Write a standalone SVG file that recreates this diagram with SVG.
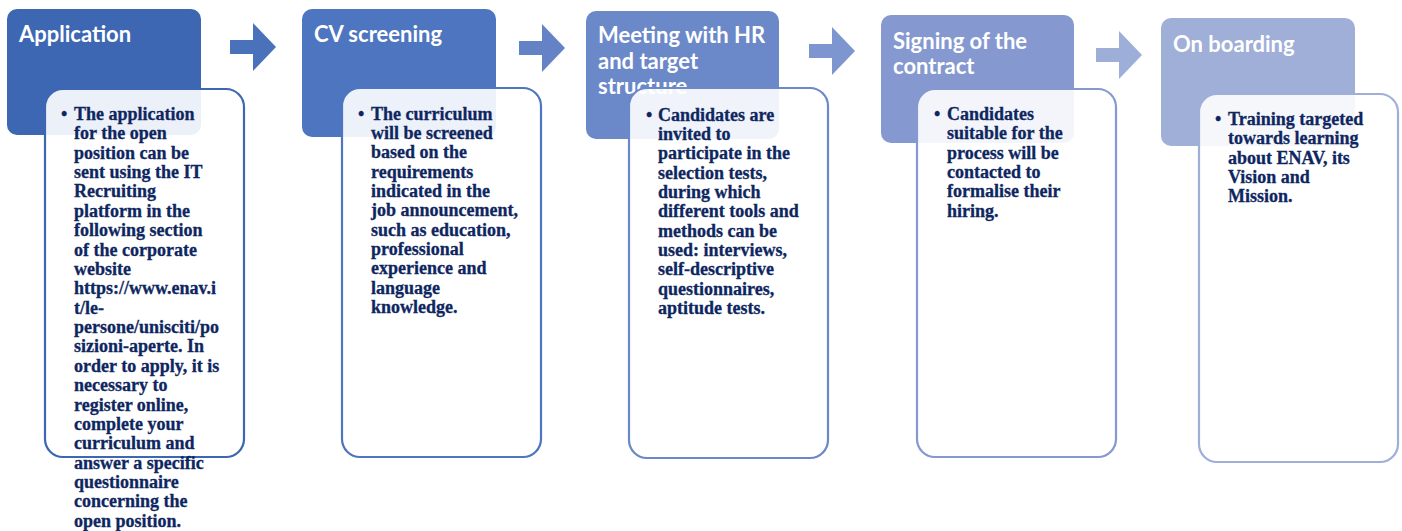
<svg xmlns="http://www.w3.org/2000/svg" width="1402" height="531" viewBox="0 0 1402 531">
<style>
.hdr{stroke:none}
.title{font-family:Lato,"Open Sans",sans-serif;font-weight:bold;font-size:22px;fill:#ffffff}
.card{fill:#ffffff;fill-opacity:0.9;stroke-width:2.2}
.body{font-family:"Liberation Serif","Times New Roman",serif;font-weight:bold;font-size:18px;fill:#0e2660;stroke:#0e2660;stroke-width:0.3}
</style>
<rect width="1402" height="531" fill="#ffffff"/>
<g id="connectors">
<polygon points="230,40 253,40 253,23 276,47 253,71 253,54 230,54" fill="#4a72ba"/>
<polygon points="519,41 542,41 542,24 565,48 542,72 542,55 519,55" fill="#6482c5"/>
<polygon points="809,44 832,44 832,27 855,51 832,75 832,58 809,58" fill="#7e96cf"/>
<polygon points="1096,48 1119,48 1119,31 1142,55 1119,79 1119,62 1096,62" fill="#9daed9"/>
</g>
<g id="node-application">
<rect class="hdr" x="7" y="9" width="194" height="126" rx="10" fill="#3d67b2"/>
<text class="title" x="19" y="42">Application</text>
<rect class="card" x="45" y="89" width="199" height="368" rx="18" stroke="#3d67b2"/>
<text class="body" x="61" y="120">•</text>
<text class="body">
<tspan x="74" y="120">The application</tspan>
<tspan x="74" dy="19.37">for the open</tspan>
<tspan x="74" dy="19.37">position can be</tspan>
<tspan x="74" dy="19.37">sent using the IT</tspan>
<tspan x="74" dy="19.37">Recruiting</tspan>
<tspan x="74" dy="19.37">platform in the</tspan>
<tspan x="74" dy="19.37">following section</tspan>
<tspan x="74" dy="19.37">of the corporate</tspan>
<tspan x="74" dy="19.37">website</tspan>
<tspan x="74" dy="19.37">https://www.enav.i</tspan>
<tspan x="74" dy="19.37">t/le-</tspan>
<tspan x="74" dy="19.37">persone/unisciti/po</tspan>
<tspan x="74" dy="19.37">sizioni-aperte. In</tspan>
<tspan x="74" dy="19.37">order to apply, it is</tspan>
<tspan x="74" dy="19.37">necessary to</tspan>
<tspan x="74" dy="19.37">register online,</tspan>
<tspan x="74" dy="19.37">complete your</tspan>
<tspan x="74" dy="19.37">curriculum and</tspan>
<tspan x="74" dy="19.37">answer a specific</tspan>
<tspan x="74" dy="19.37">questionnaire</tspan>
<tspan x="74" dy="19.37">concerning the</tspan>
<tspan x="74" dy="19.37">open position.</tspan>
</text>
</g>
<g id="node-cv-screening">
<rect class="hdr" x="302" y="9" width="194" height="128" rx="10" fill="#4e75c0"/>
<text class="title" x="314" y="42">CV screening</text>
<rect class="card" x="342" y="88" width="199" height="369" rx="18" stroke="#4e75c0"/>
<text class="body" x="358" y="119.5">•</text>
<text class="body">
<tspan x="371" y="119.5">The curriculum</tspan>
<tspan x="371" dy="19.37">will be screened</tspan>
<tspan x="371" dy="19.37">based on the</tspan>
<tspan x="371" dy="19.37">requirements</tspan>
<tspan x="371" dy="19.37">indicated in the</tspan>
<tspan x="371" dy="19.37">job announcement,</tspan>
<tspan x="371" dy="19.37">such as education,</tspan>
<tspan x="371" dy="19.37">professional</tspan>
<tspan x="371" dy="19.37">experience and</tspan>
<tspan x="371" dy="19.37">language</tspan>
<tspan x="371" dy="19.37">knowledge.</tspan>
</text>
</g>
<g id="node-meeting">
<rect class="hdr" x="586" y="11" width="193" height="128" rx="10" fill="#6b88c8"/>
<text class="title">
<tspan x="598" y="43">Meeting with HR</tspan>
<tspan x="598" y="68.5">and target</tspan>
<tspan x="598" y="94">structure</tspan>
</text>
<rect class="card" x="629" y="88" width="199" height="370" rx="18" stroke="#6b88c8"/>
<text class="body" x="646" y="120.5">•</text>
<text class="body">
<tspan x="658" y="120.5">Candidates are</tspan>
<tspan x="658" dy="19.37">invited to</tspan>
<tspan x="658" dy="19.37">participate in the</tspan>
<tspan x="658" dy="19.37">selection tests,</tspan>
<tspan x="658" dy="19.37">during which</tspan>
<tspan x="658" dy="19.37">different tools and</tspan>
<tspan x="658" dy="19.37">methods can be</tspan>
<tspan x="658" dy="19.37">used: interviews,</tspan>
<tspan x="658" dy="19.37">self-descriptive</tspan>
<tspan x="658" dy="19.37">questionnaires,</tspan>
<tspan x="658" dy="19.37">aptitude tests.</tspan>
</text>
</g>
<g id="node-signing">
<rect class="hdr" x="881" y="15" width="193" height="128" rx="10" fill="#8599d0"/>
<text class="title">
<tspan x="893" y="49">Signing of the</tspan>
<tspan x="893" y="74">contract</tspan>
</text>
<rect class="card" x="917" y="89" width="199" height="368" rx="18" stroke="#8599d0"/>
<text class="body" x="934" y="120">•</text>
<text class="body">
<tspan x="947" y="120">Candidates</tspan>
<tspan x="947" dy="19.37">suitable for the</tspan>
<tspan x="947" dy="19.37">process will be</tspan>
<tspan x="947" dy="19.37">contacted to</tspan>
<tspan x="947" dy="19.37">formalise their</tspan>
<tspan x="947" dy="19.37">hiring.</tspan>
</text>
</g>
<g id="node-onboarding">
<rect class="hdr" x="1161" y="18" width="194" height="128" rx="10" fill="#9fafd8"/>
<text class="title" x="1173" y="52">On boarding</text>
<rect class="card" x="1199" y="94" width="199" height="368" rx="18" stroke="#9fafd8"/>
<text class="body" x="1215" y="125">•</text>
<text class="body">
<tspan x="1228" y="125">Training targeted</tspan>
<tspan x="1228" dy="19.37">towards learning</tspan>
<tspan x="1228" dy="19.37">about ENAV, its</tspan>
<tspan x="1228" dy="19.37">Vision and</tspan>
<tspan x="1228" dy="19.37">Mission.</tspan>
</text>
</g>
</svg>
